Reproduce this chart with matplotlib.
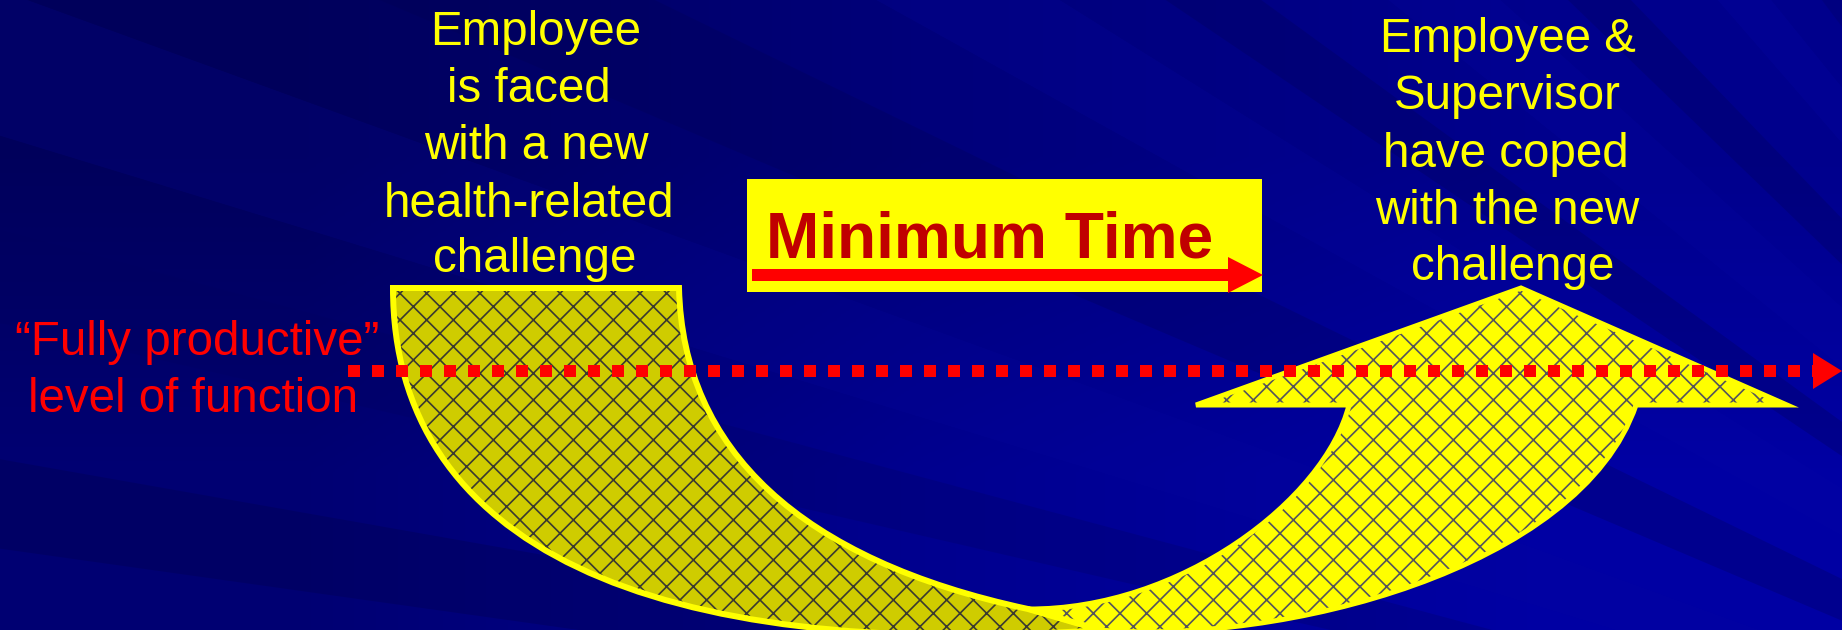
import numpy as np
import matplotlib
matplotlib.use("Agg")
import matplotlib.pyplot as plt
from matplotlib.path import Path
from matplotlib.patches import PathPatch, Polygon, Rectangle

# ---------------- content ----------------
left_lines = ["Employee", "is faced", "with a new", "health-related", "challenge"]
left_x = [536, 529, 536, 529, 535]
left_base = [45, 102, 159, 217, 272]

right_lines = ["Employee &", "Supervisor", "have coped", "with the new", "challenge"]
right_x = [1508, 1507, 1506, 1507, 1513]
right_base = [52, 109, 167, 224, 280]

level_lines = ["\u201cFully productive\u201d", "level of function"]
level_x = [197, 193]
level_base = [355, 412]

box_label = "Minimum Time"

# ---------------- figure ----------------
W, H, DPI = 1842, 630, 80
PX = 72.0 / DPI  # points per pixel
plt.rcParams['hatch.linewidth'] = 1.5
plt.rcParams['lines.scale_dashes'] = False
fig = plt.figure(figsize=(W / DPI, H / DPI), dpi=DPI)
ax = fig.add_axes([0, 0, 1, 1])
ax.set_xlim(0, W)
ax.set_ylim(H, 0)
ax.axis('off')

# background gradient (dark navy, brighter toward lower right)
bg = np.array([[[0, 0, 0.36], [0, 0, 0.48], [0, 0, 0.55]],
               [[0, 0, 0.45], [0, 0, 0.56], [0, 0, 0.64]]])
ax.imshow(bg, extent=[0, W, H, 0], interpolation='bilinear', aspect='auto', zorder=0)

# subtle background streaks radiating from lower right
F = np.array([2500.0, 900.0])
streaks = [(-172, -170, '#00004a', 0.30), (-167, -165, '#000060', 0.25),
           (-163, -160, '#0a0aa0', 0.18), (-157, -154, '#000050', 0.25),
           (-151, -148, '#0a0aa8', 0.18), (-146, -144, '#000055', 0.28),
           (-141, -138, '#0a0aa8', 0.18), (-136, -134, '#000058', 0.28),
           (-131, -129, '#0a0ab0', 0.18), (-127, -125, '#000060', 0.25)]
for a0, a1, c, al in streaks:
    r = 4000
    pts = [tuple(F),
           tuple(F + r * np.array([np.cos(np.radians(a0)), np.sin(np.radians(a0))])),
           tuple(F + r * np.array([np.cos(np.radians(a1)), np.sin(np.radians(a1))]))]
    ax.add_patch(Polygon(pts, closed=True, facecolor=c, edgecolor='none', alpha=al, zorder=1))

# ---------------- curved arrow ----------------
M, C, L, Z = Path.MOVETO, Path.CURVE4, Path.LINETO, Path.CLOSEPOLY
left_verts = [(393, 288),
              (393, 545), (650, 662), (1100, 630),
              (1028, 609),
              (800, 560), (683, 450), (679, 288),
              (393, 288)]
left_codes = [M, C, C, C, L, C, C, C, Z]

right_verts = [(1028, 609),
               (1180, 610), (1325, 500), (1349, 405),
               (1196, 405), (1521, 288), (1787, 405), (1636, 405),
               (1580, 570), (1280, 645), (1100, 630),
               (1028, 609)]
right_codes = [M, C, C, C, L, L, L, L, C, C, C, Z]

lp = Path(left_verts, left_codes)
rp = Path(right_verts, right_codes)

ax.add_patch(PathPatch(lp, facecolor='#cfcc00', edgecolor='#3a3a30', lw=0, hatch='x', zorder=3))
ax.add_patch(PathPatch(lp, facecolor='none', edgecolor='#ffff00', lw=6 * PX, zorder=4))
ax.add_patch(PathPatch(rp, facecolor='#ffff00', edgecolor='#55555c', lw=0, hatch='x', zorder=3))
ax.add_patch(PathPatch(rp, facecolor='none', edgecolor='#ffff00', lw=5 * PX,
                       joinstyle='miter', zorder=4))

# ---------------- dotted level line ----------------
ax.plot([348, 1815], [371, 371], color='#ff0000', lw=12 * PX,
        dashes=(12 * PX, 12 * PX), solid_capstyle='butt', dash_capstyle='butt', zorder=6)
ax.add_patch(Polygon([(1813, 353), (1842, 371), (1813, 389)], closed=True,
                     facecolor='#ff0000', edgecolor='none', zorder=6))

# ---------------- Minimum Time box ----------------
ax.add_patch(Rectangle((747, 179), 515, 113, facecolor='#ffff00', edgecolor='none', zorder=5))
ax.add_patch(Rectangle((752, 269), 477, 12, facecolor='#ff0000', edgecolor='none', zorder=6))
ax.add_patch(Polygon([(1228, 257), (1263, 275), (1228, 293)], closed=True,
                     facecolor='#ff0000', edgecolor='none', zorder=6))
ax.text(990, 258, box_label, ha='center', va='baseline', color='#c00000',
        fontsize=64 * PX, fontweight='bold', family='Liberation Sans', zorder=7)

# ---------------- texts ----------------
fs = 47.5 * PX
for s, x, y in zip(left_lines, left_x, left_base):
    ax.text(x, y, s, ha='center', va='baseline', color='#ffff00', fontsize=fs,
            family='Liberation Sans', zorder=7)
for s, x, y in zip(right_lines, right_x, right_base):
    ax.text(x, y, s, ha='center', va='baseline', color='#ffff00', fontsize=fs,
            family='Liberation Sans', zorder=7)
for s, x, y in zip(level_lines, level_x, level_base):
    ax.text(x, y, s, ha='center', va='baseline', color='#ff0000', fontsize=fs,
            family='Liberation Sans', zorder=7)

fig.savefig('out.png', dpi=DPI)
